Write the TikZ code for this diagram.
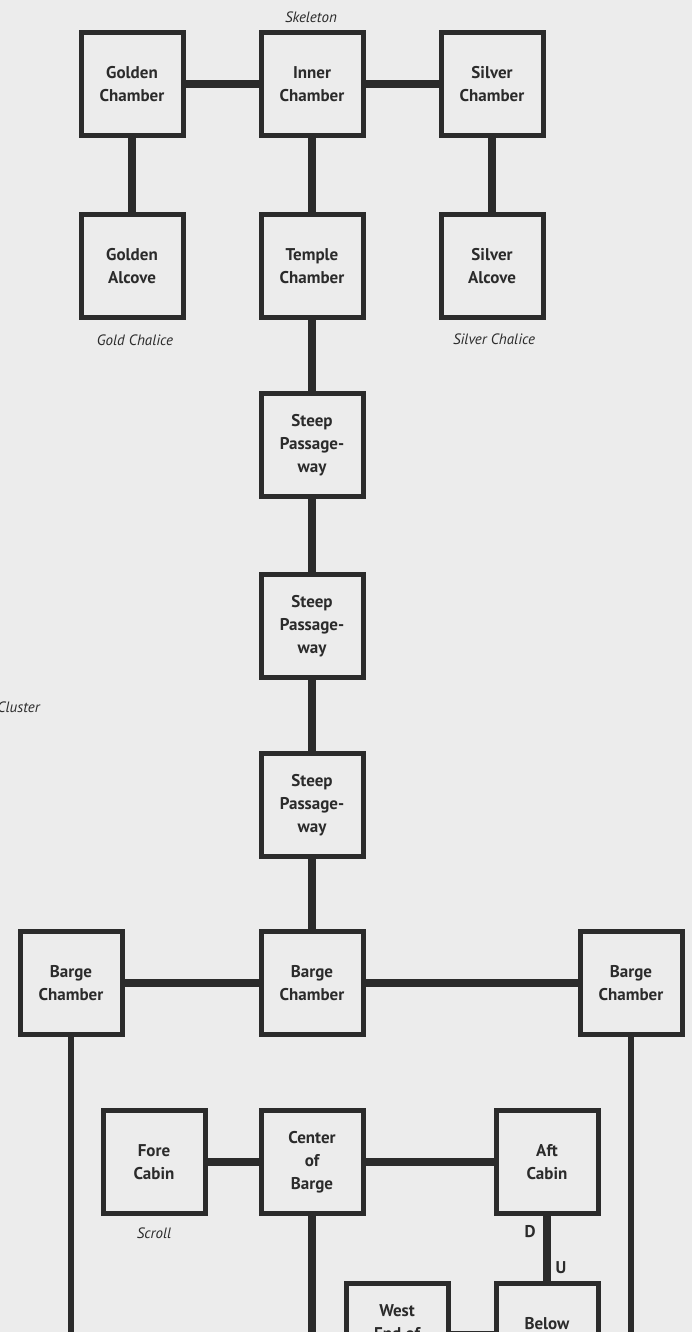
\documentclass[tikz,border=0pt]{standalone}
\usepackage{fontspec}
\setmainfont{PT Sans}
\definecolor{bg}{HTML}{ECECEC}
\definecolor{ink}{HTML}{2B2B2B}
\begin{document}
\begin{tikzpicture}[x=1pt,y=-1pt,
  room/.style={draw=ink, line width=5pt, minimum width=102pt, minimum height=103pt,
    inner sep=0pt, align=center, text=ink, font=\fontsize{17}{23}\selectfont\bfseries},
  conn/.style={draw=ink, line width=7.5pt},
  note/.style={font=\fontsize{15}{18}\selectfont\itshape, text=ink, inner sep=0pt},
  du/.style={font=\fontsize{17}{20}\selectfont\bfseries, text=ink, inner sep=0pt}]
\path[use as bounding box, fill=bg] (0,0) rectangle (692,1332);
\clip (0,0) rectangle (692,1332);

% rooms
\node[room] (gc) at (132,84) {Golden\\Chamber};
\node[room] (ic) at (312,84) {Inner\\Chamber};
\node[room] (sc) at (492,84) {Silver\\Chamber};
\node[room] (ga) at (132,266) {Golden\\Alcove};
\node[room] (tc) at (312,266) {Temple\\Chamber};
\node[room] (sa) at (492,266) {Silver\\Alcove};
\node[room] (sp1) at (312,445) {Steep\\Passage-\\way};
\node[room] (sp2) at (312,626) {Steep\\Passage-\\way};
\node[room] (sp3) at (312,805) {Steep\\Passage-\\way};
\node[room] (bcl) at (71,983) {Barge\\Chamber};
\node[room] (bcm) at (312,983) {Barge\\Chamber};
\node[room] (bcr) at (631,983) {Barge\\Chamber};
\node[room] (fc) at (154,1162) {Fore\\Cabin};
\node[room] (cb) at (312,1162) {Center\\of\\Barge};
\node[room] (ac) at (547,1162) {Aft\\Cabin};
\node[room] (we) at (397,1335) {West\\End of\\Barge};
\node[room] (bd) at (547,1335) {Below\\Deck};

% labels
\node[note] (skel) at (311,17) {Skeleton};
\node[note] (gch) at (135,340) {Gold Chalice};
\node[note] (sch) at (494,339) {Silver Chalice};
\node[note, anchor=east] (clu) at (40,707) {Cluster};
\node[note] (scr) at (154,1233) {Scroll};
\node[du] (dn) at (530,1232) {D};
\node[du] (up) at (561,1268) {U};

% free ends at the bottom edge
\coordinate (lend) at (71,1345);
\coordinate (rend) at (631,1345);
\coordinate (cend) at (312,1345);

% connectors
\draw[conn] (gc) -- (ic);
\draw[conn] (ic) -- (sc);
\draw[conn] (gc) -- (ga);
\draw[conn] (ic) -- (tc);
\draw[conn] (sc) -- (sa);
\draw[conn] (tc) -- (sp1);
\draw[conn] (sp1) -- (sp2);
\draw[conn] (sp2) -- (sp3);
\draw[conn] (sp3) -- (bcm);
\draw[conn] (bcl) -- (bcm);
\draw[conn] (bcm) -- (bcr);
\draw[conn, line width=6.5pt] (bcl) -- (lend);
\draw[conn, line width=6.5pt] (bcr) -- (rend);
\draw[conn] (fc) -- (cb);
\draw[conn] (cb) -- (ac);
\draw[conn] (cb) -- (cend);
\draw[conn] (ac) -- (bd);
\draw[conn] (we) -- (bd);
\end{tikzpicture}
\end{document}
